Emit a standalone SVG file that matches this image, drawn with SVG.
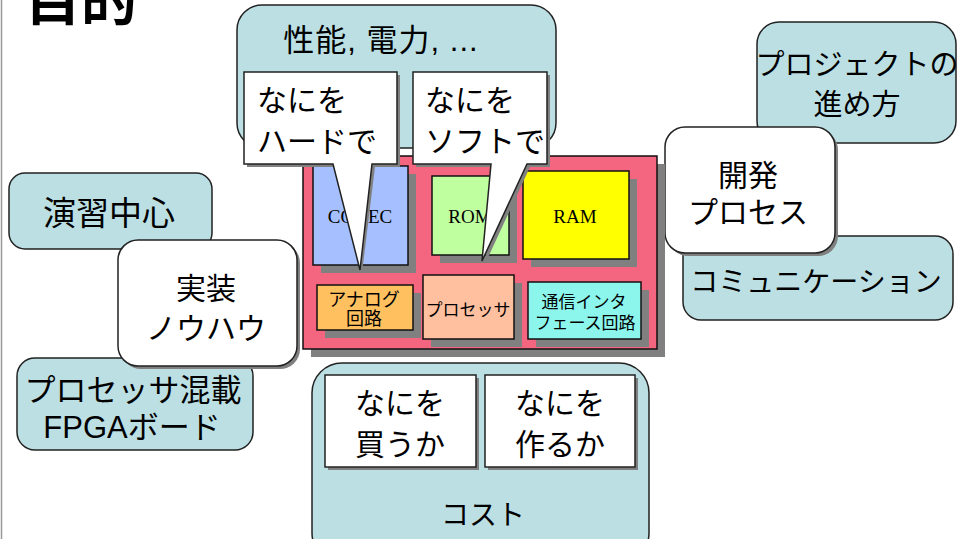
<svg xmlns="http://www.w3.org/2000/svg" width="958" height="539" viewBox="0 0 958 539">
<style>
.teal{fill:#BBDFE3;stroke:#222;stroke-width:1.5}
.white{fill:#fff;stroke:#222;stroke-width:1.5}
.shadow{fill:#808080}
.comp{stroke:#111;stroke-width:1.5}
.jp{font-family:"Noto Sans CJK JP","Liberation Sans",sans-serif;fill:#000}
.mix{font-family:"Liberation Sans","Noto Sans CJK JP",sans-serif;fill:#000}
.serif{font-family:"Liberation Serif",serif;fill:#000;font-size:19px}
.big{font-size:30px}
.mid{font-size:28px}
.small{font-size:17px}
.c{text-anchor:middle}
</style>
<rect width="958" height="539" fill="#fff"/>
<line x1="1.5" y1="0" x2="1.5" y2="539" stroke="#999" stroke-width="1.5"/>
<text x="25" y="20" class="jp" font-size="56" font-weight="bold">目的</text>

<g id="perf">
<rect x="237" y="5" width="319" height="143" rx="25" class="teal"/>
<text x="381" y="51" class="mix c" font-size="31" letter-spacing="1">性能, 電力, ...</text>
</g>

<g id="project">
<rect x="757" y="22" width="199" height="121" rx="22" class="teal"/>
<text x="857" y="75" class="jp c" font-size="29">プロジェクトの</text>
<text x="857" y="115" class="jp c" font-size="29">進め方</text>
</g>

<g id="comm">
<rect x="683" y="236" width="270" height="84" rx="18" class="teal"/>
<text x="816" y="292" class="jp c mid">コミュニケーション</text>
</g>

<g id="kaihatsu">
<rect x="668" y="130" width="170" height="126" rx="20" class="shadow"/>
<rect x="665" y="127" width="170" height="126" rx="20" class="white"/>
<text x="748" y="186" class="jp c big">開発</text>
<text x="748" y="223" class="jp c big">プロセス</text>
</g>

<g id="enshu">
<rect x="9" y="173" width="203" height="76" rx="16" class="teal"/>
<text x="109" y="225" class="jp c" font-size="33">演習中心</text>
</g>

<g id="fpga">
<rect x="17" y="358" width="236" height="92" rx="18" class="teal"/>
<text x="133" y="401" class="jp c" font-size="31">プロセッサ混載</text>
<text x="132" y="438" class="mix c" font-size="31">FPGAボード</text>
</g>

<g id="jisso">
<rect x="121" y="243" width="179" height="126" rx="20" class="shadow"/>
<rect x="118" y="240" width="179" height="126" rx="20" class="white"/>
<text x="206" y="299" class="jp c big">実装</text>
<text x="206" y="339" class="jp c big">ノウハウ</text>
</g>

<g id="board">
<rect x="311" y="164" width="354" height="193" class="shadow"/>
<rect x="303" y="156" width="354" height="193" fill="#F4667F" class="comp"/>
</g>
<g id="codec">
<rect x="321" y="174" width="95" height="99" class="shadow"/>
<rect x="313" y="166" width="95" height="99" fill="#A6C0FF" class="comp"/>
<text x="360" y="223" class="serif c">CODEC</text>
</g>
<g id="rom">
<rect x="440" y="184" width="77" height="79" class="shadow"/>
<rect x="432" y="176" width="77" height="79" fill="#C0FFA0" class="comp"/>
<text x="470" y="223" class="serif c">ROM</text>
</g>
<g id="ram">
<rect x="531" y="179" width="106" height="88" class="shadow"/>
<rect x="523" y="171" width="106" height="88" fill="#FFFF00" class="comp"/>
<text x="575" y="223" class="serif c">RAM</text>
</g>
<g id="analog">
<rect x="325" y="293" width="96" height="45" class="shadow"/>
<rect x="317" y="285" width="96" height="45" fill="#FFC060" class="comp"/>
<text x="364" y="306" class="jp c" font-size="18">アナログ</text>
<text x="364" y="325" class="jp c" font-size="18">回路</text>
</g>
<g id="processor">
<rect x="431" y="283" width="91" height="64" class="shadow"/>
<rect x="423" y="275" width="91" height="64" fill="#FFC0A0" class="comp"/>
<text x="468" y="316" class="jp c small">プロセッサ</text>
</g>
<g id="commif">
<rect x="536" y="290" width="113" height="57" class="shadow"/>
<rect x="528" y="282" width="113" height="57" fill="#8CF5EC" class="comp"/>
<text x="584" y="308" class="jp c small">通信インタ</text>
<text x="585" y="329" class="jp c small">フェース回路</text>
</g>

<g id="callout-hw">
<path d="M247,75 H400 V167 H375 L362,273 L336,167 H247 Z" class="shadow"/>
<path d="M244,72 H397 V164 H372 L360,270 L333,164 H244 Z" class="white"/>
<text x="257" y="111" class="jp big">なにを</text>
<text x="257" y="152" class="jp big">ハードで</text>
</g>
<g id="callout-sw">
<path d="M416,75 H550 V167 H530 L485,264 L494,167 H416 Z" class="shadow"/>
<path d="M413,72 H547 V164 H527 L482,261 L491,164 H413 Z" class="white"/>
<text x="425" y="111" class="jp big">なにを</text>
<text x="425" y="152" class="jp big">ソフトで</text>
</g>

<g id="cost">
<rect x="312" y="363" width="337" height="200" rx="30" class="teal"/>
<text x="483" y="525" class="jp c mid">コスト</text>
</g>
<g id="buy">
<rect x="328" y="378" width="151" height="92" class="shadow"/>
<rect x="325" y="375" width="151" height="92" class="white"/>
<text x="400" y="414" class="jp c big">なにを</text>
<text x="400" y="455" class="jp c big">買うか</text>
</g>
<g id="make">
<rect x="488" y="378" width="150" height="92" class="shadow"/>
<rect x="485" y="375" width="150" height="92" class="white"/>
<text x="560" y="414" class="jp c big">なにを</text>
<text x="560" y="455" class="jp c big">作るか</text>
</g>
<g id="connectors"/>
</svg>
